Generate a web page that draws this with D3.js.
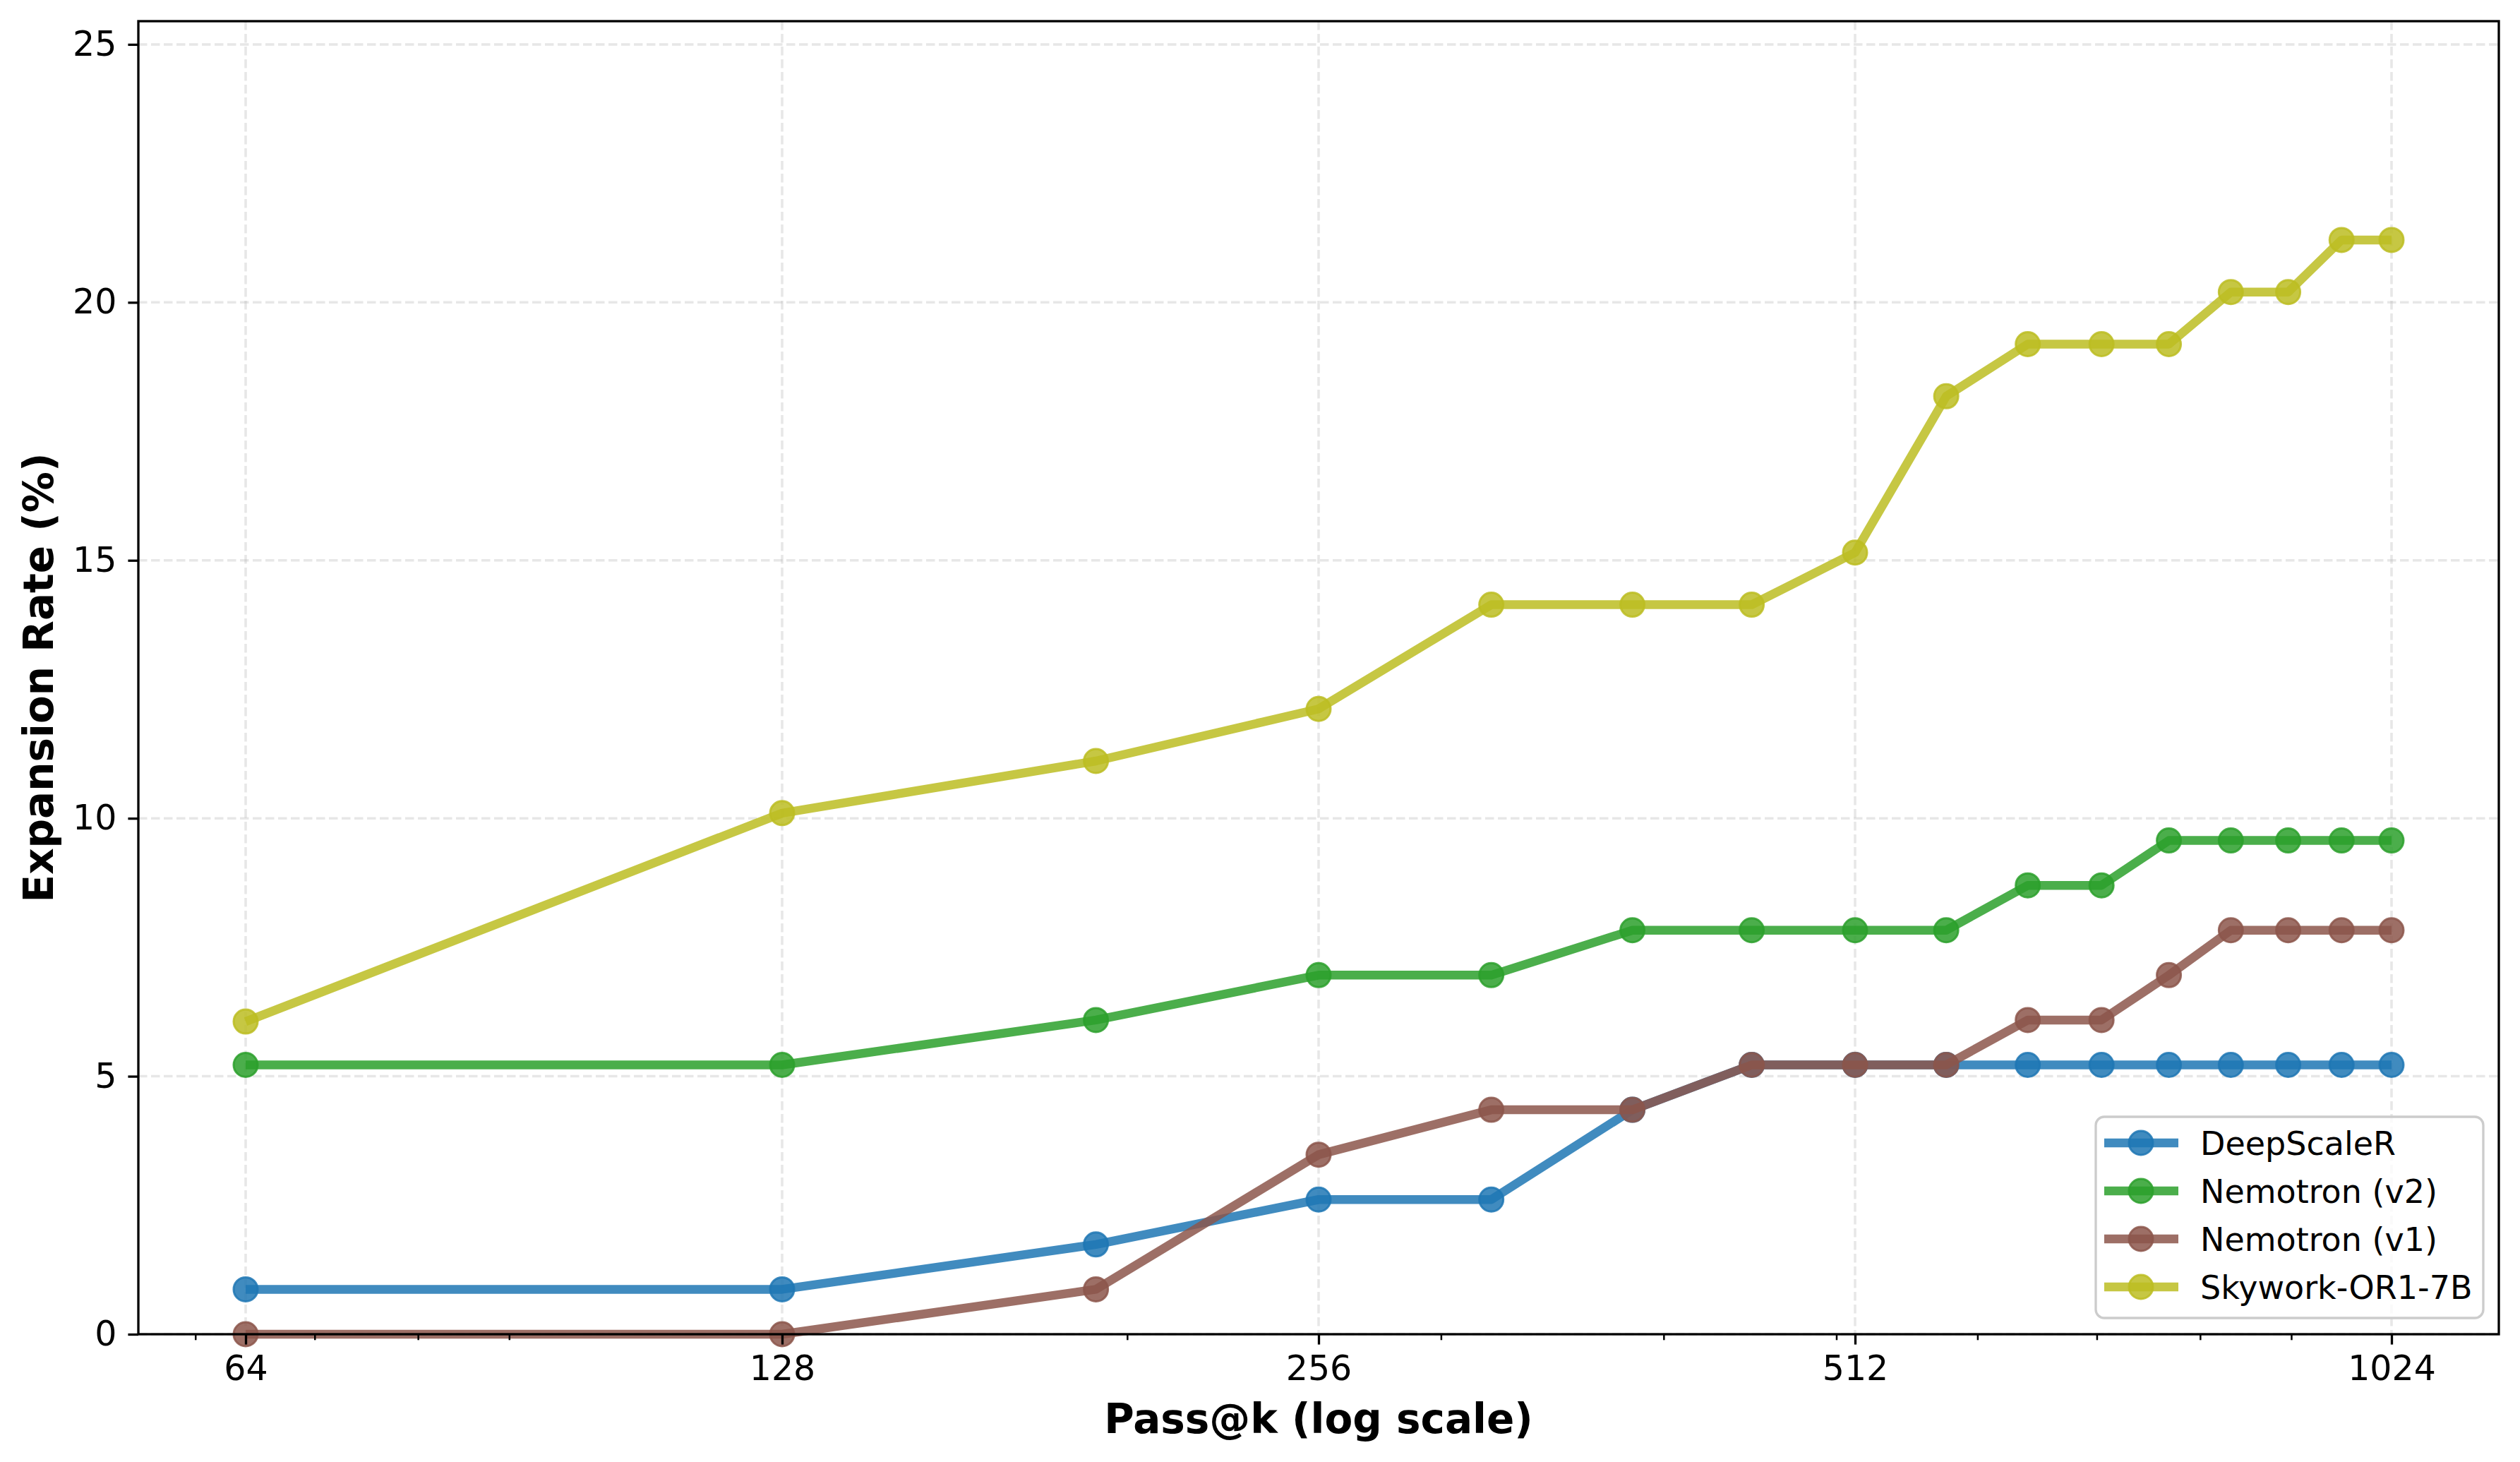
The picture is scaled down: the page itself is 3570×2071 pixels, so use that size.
<!DOCTYPE html>
<html>
<head>
<meta charset="utf-8">
<script src="https://cdn.jsdelivr.net/npm/d3@7"></script>
<style>
html,body{margin:0;padding:0;background:#fff;}
svg{display:block;}
text{font-family:"DejaVu Sans",sans-serif;}
</style>
</head>
<body>
<svg id="chart" width="3570" height="2071"></svg>
<script>
// ---- data ----
const kValues = [64,128,192,256,320,384,448,512,576,640,704,768,832,896,960,1024];
const seriesNames = ["DeepScaleR","Nemotron (v2)","Nemotron (v1)","Skywork-OR1-7B"];
const seriesColors = ["#1f77b4","#2ca02c","#8c564b","#bcbd22"];
const deepScaleR  = [0.87,0.87,1.74,2.61,2.61,4.35,5.22,5.22,5.22,5.22,5.22,5.22,5.22,5.22,5.22,5.22];
const nemotronV2  = [5.22,5.22,6.09,6.96,6.96,7.83,7.83,7.83,7.83,8.70,8.70,9.57,9.57,9.57,9.57,9.57];
const nemotronV1  = [0,0,0.87,3.48,4.35,4.35,5.22,5.22,5.22,6.09,6.09,6.96,7.83,7.83,7.83,7.83];
const skywork     = [6.06,10.10,11.11,12.12,14.14,14.14,14.14,15.15,18.18,19.19,19.19,19.19,20.20,20.20,21.21,21.21];
const seriesValues = [deepScaleR, nemotronV2, nemotronV1, skywork];
const xTickValues = [64,128,256,512,1024];
const xMinorTicks = [60,70,80,90,200,300,400,500,600,700,800,900];
const yTickValues = [0,5,10,15,20,25];
const xLabel = "Pass@k (log scale)";
const yLabel = "Expansion Rate (%)";

// ---- layout ----
const L = 196, R = 3540, T = 30, B = 1890;
const svg = d3.select("#chart");

const x = d3.scaleLog().base(2)
  .domain([64*Math.pow(2,-0.2), 1024*Math.pow(2,0.2)])
  .range([L, R]);
const y = d3.scaleLinear().domain([0, 25.45]).range([B, T]);

// grid
const grid = svg.append("g");
grid.selectAll("line.gx").data(xTickValues).join("line")
  .attr("x1", d=>x(d)).attr("x2", d=>x(d)).attr("y1", T).attr("y2", B)
  .attr("stroke", "#b0b0b0").attr("stroke-opacity", 0.3)
  .attr("stroke-width", 3.5).attr("stroke-dasharray", "12.5,5.5");
grid.selectAll("line.gy").data(yTickValues).join("line")
  .attr("x1", L).attr("x2", R).attr("y1", d=>y(d)).attr("y2", d=>y(d))
  .attr("stroke", "#b0b0b0").attr("stroke-opacity", 0.3)
  .attr("stroke-width", 3.5).attr("stroke-dasharray", "12.5,5.5");

// lines + markers
const LW = 12.5, MR = 17, MSW = 3;
const line = d3.line().x((d,i)=>x(kValues[i])).y(d=>y(d));
const plot = svg.append("g");
seriesValues.forEach((vals, si) => {
  const c = seriesColors[si];
  plot.append("path").datum(vals)
    .attr("d", line).attr("fill", "none")
    .attr("stroke", c).attr("stroke-opacity", 0.85)
    .attr("stroke-width", LW).attr("stroke-linejoin", "round");
  plot.selectAll(null).data(vals).join("circle")
    .attr("cx", (d,i)=>x(kValues[i])).attr("cy", d=>y(d)).attr("r", MR)
    .attr("fill", c).attr("fill-opacity", 0.85)
    .attr("stroke", c).attr("stroke-opacity", 0.85).attr("stroke-width", MSW);
});

// axes
const fs = 49;
const xAxis = d3.axisBottom(x).tickValues(xTickValues).tickFormat(d3.format("d"))
  .tickSize(14.6).tickPadding(16);
const gx = svg.append("g").attr("transform", `translate(0,${B})`).call(xAxis);
gx.select(".domain").remove();
gx.selectAll(".tick line").attr("stroke", "#000").attr("stroke-width", 3.3);
gx.selectAll(".tick text").attr("font-size", fs).attr("fill", "#000")
  .attr("font-family", "DejaVu Sans");
const gxm = svg.append("g").attr("transform", `translate(0,${B})`);
gxm.selectAll("line").data(xMinorTicks).join("line")
  .attr("x1", d=>x(d)).attr("x2", d=>x(d)).attr("y1", 0).attr("y2", 8.3)
  .attr("stroke", "#000").attr("stroke-width", 2.5);

const yAxis = d3.axisLeft(y).tickValues(yTickValues).tickFormat(d3.format("d"))
  .tickSize(14.6).tickPadding(16);
const gy = svg.append("g").attr("transform", `translate(${L},0)`).call(yAxis);
gy.select(".domain").remove();
gy.selectAll(".tick line").attr("stroke", "#000").attr("stroke-width", 3.3);
gy.selectAll(".tick text").attr("font-size", fs).attr("fill", "#000")
  .attr("font-family", "DejaVu Sans");

// spines
svg.append("rect").attr("x", L).attr("y", T).attr("width", R-L).attr("height", B-T)
  .attr("fill", "none").attr("stroke", "#000").attr("stroke-width", 3.3);

// axis labels
svg.append("text").attr("x", (L+R)/2).attr("y", 2030)
  .attr("text-anchor", "middle").attr("font-size", 58).attr("font-weight", "bold")
  .text(xLabel);
svg.append("text").attr("transform", `translate(75,${(T+B)/2}) rotate(-90)`)
  .attr("text-anchor", "middle").attr("font-size", 58).attr("font-weight", "bold")
  .text(yLabel);

// legend
const lgW = 549, lgH = 285;
const lgX = R - 22 - lgW, lgY = B - 23 - lgH;
const lg = svg.append("g").attr("transform", `translate(${lgX},${lgY})`);
lg.append("rect").attr("x", 0).attr("y", 0).attr("width", lgW).attr("height", lgH)
  .attr("rx", 12).attr("ry", 12)
  .attr("fill", "#fff").attr("fill-opacity", 0.8)
  .attr("stroke", "#cccccc").attr("stroke-width", 3.3);
seriesNames.forEach((name, i) => {
  const cy = 37 + i*68;
  const c = seriesColors[i];
  lg.append("line").attr("x1", 12).attr("x2", 117).attr("y1", cy).attr("y2", cy)
    .attr("stroke", c).attr("stroke-opacity", 0.85).attr("stroke-width", LW);
  lg.append("circle").attr("cx", 64).attr("cy", cy).attr("r", MR)
    .attr("fill", c).attr("fill-opacity", 0.85)
    .attr("stroke", c).attr("stroke-opacity", 0.85).attr("stroke-width", MSW);
  lg.append("text").attr("x", 148).attr("y", cy).attr("dy", "0.36em")
    .attr("font-size", 46).attr("fill", "#000").text(name);
});
</script>
</body>
</html>
